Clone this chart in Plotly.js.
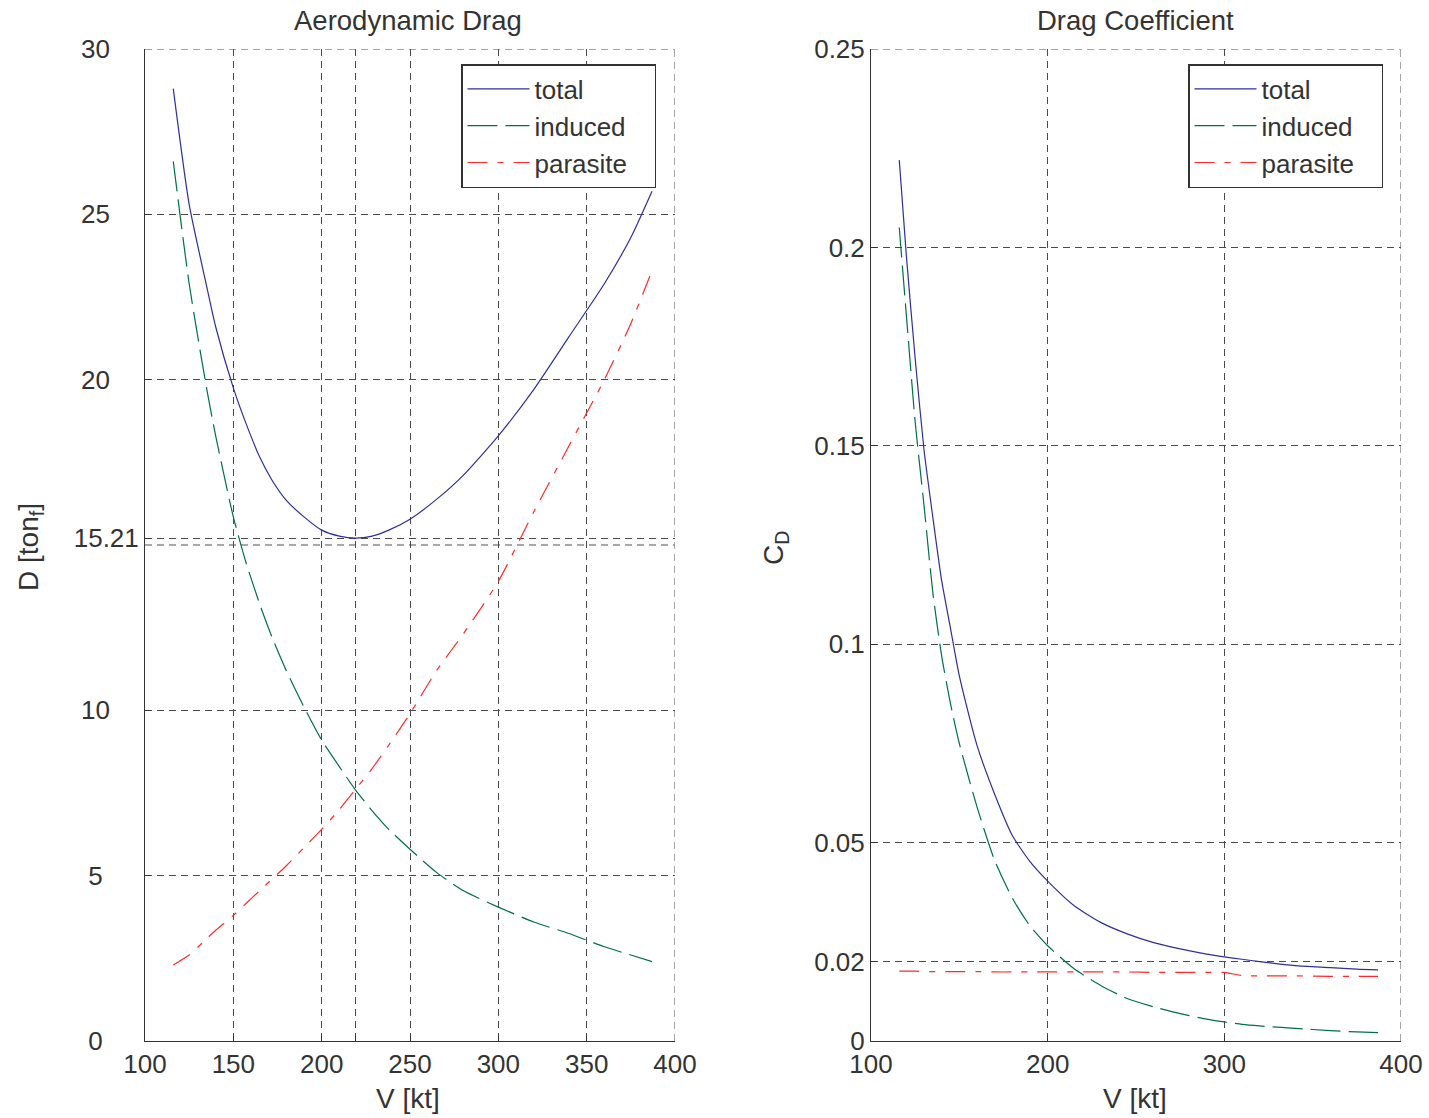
<!DOCTYPE html>
<html>
<head>
<meta charset="utf-8">
<script src="https://cdn.plot.ly/plotly-3.0.1.min.js"></script>
<style>html,body{margin:0;padding:0;background:#fff;}#chart{width:1429px;height:1118px;}</style>
</head>
<body>
<div id="chart"></div>
<script>
// ---- Left panel: Aerodynamic Drag ----
var speedDrag = [116,125,135,140,150,157,165,172,180,190,200,210,219,228,238,250,265,280,300,320,340,360,375,387];
var dragTotal = [28.8,25.3,22.8,21.6,19.75,18.7,17.65,16.95,16.35,15.85,15.45,15.27,15.21,15.26,15.45,15.78,16.38,17.1,18.3,19.7,21.3,22.9,24.3,25.7];
var dragInduced = [26.6,22.9,19.7,18.3,15.85,14.5,13.2,12.2,11.2,10.1,9.1,8.3,7.6,7.0,6.4,5.8,5.1,4.55,4.05,3.6,3.25,2.85,2.6,2.4];
var dragParasite = [2.3,2.6,3.1,3.35,3.8,4.15,4.55,4.9,5.3,5.85,6.4,7.0,7.6,8.2,8.95,9.9,11.2,12.3,13.9,16.0,18.0,20.0,21.7,23.3];
var dragXTicks = [100,150,200,219,250,300,350,400];
var dragXLabels = ['100','150','200','','250','300','350','400'];
var dragYTicks = [0,5,10,15.21,20,25,30];
var dragYLabels = ['0','5','10','15.21','20','25','30'];
var dragRefLine = 15;

// ---- Right panel: Drag Coefficient ----
var speedCd = [116,120,125,130,135,140,145,150,160,170,180,190,200,215,230,245,260,275,290,300,310,320,340,360,375,387];
var cdTotal = [0.222,0.198,0.172,0.149,0.132,0.116,0.104,0.092,0.0745,0.0622,0.0518,0.0452,0.0403,0.0341,0.0299,0.0270,0.0248,0.0232,0.0219,0.0212,0.0206,0.0200,0.0190,0.0185,0.0181,0.0179];
var cdInduced = [0.205,0.183,0.156,0.135,0.113,0.097,0.085,0.075,0.059,0.0455,0.036,0.029,0.0240,0.0182,0.0140,0.0107,0.0086,0.0069,0.0055,0.0048,0.0042,0.0038,0.0032,0.0026,0.0023,0.0021];
var cdParasite = [0.0176,0.0176,0.0176,0.0175,0.0175,0.0175,0.0175,0.0175,0.0175,0.0174,0.0174,0.0174,0.0174,0.0174,0.0174,0.0174,0.0173,0.0173,0.0173,0.0173,0.0165,0.0164,0.0164,0.0163,0.0163,0.0163];
var cdXTicks = [100,200,300,400];
var cdYTicks = [0,0.02,0.05,0.1,0.15,0.2,0.25];
var cdYLabels = ['0','0.02','0.05','0.1','0.15','0.2','0.25'];

var seriesNames = ['total','induced','parasite'];
var cBlue = '#2f2f9c', cGreen = '#007048', cRed = '#ff2a2a';
var dashInduced = '30px,8px';
var dashParasite = '20px,10px,6px,10px';
var FONT = 'Liberation Sans, Arial, sans-serif';
var TXT = '#333333';
var NB = '\u00a0';

// pad the left-panel labels so they sit centred like the reference
function padLabel(s) {
  if (s.length >= 5) return s;
  return s + NB.repeat(s.length === 1 ? 5 : 4);
}
// right padding inside the legend box
function legName(s) { return s + NB.repeat(3); }

function tr(x, y, name, color, dash, xa, ya, leg) {
  return {x: x, y: y, name: legName(name), type: 'scatter', mode: 'lines',
    line: {color: color, width: 1.2, dash: dash, shape: 'spline', smoothing: 0.6},
    xaxis: xa, yaxis: ya, legend: leg};
}
var data = [
  tr(speedDrag, dragTotal, seriesNames[0], cBlue, 'solid', 'x', 'y', 'legend'),
  tr(speedDrag, dragInduced, seriesNames[1], cGreen, dashInduced, 'x', 'y', 'legend'),
  tr(speedDrag, dragParasite, seriesNames[2], cRed, dashParasite, 'x', 'y', 'legend'),
  tr(speedCd, cdTotal, seriesNames[0], cBlue, 'solid', 'x2', 'y2', 'legend2'),
  tr(speedCd, cdInduced, seriesNames[1], cGreen, dashInduced, 'x2', 'y2', 'legend2'),
  tr(speedCd, cdParasite, seriesNames[2], cRed, dashParasite, 'x2', 'y2', 'legend2')
];

var W = 1429, H = 1118;
function px(v){return v / W;}
function py(v){return (H - v) / H;}

var axBase = {
  showgrid: true, gridcolor: '#4a4a4a', gridwidth: 1, griddash: '7px,5px',
  zeroline: false, showline: true, linecolor: '#333333', linewidth: 1,
  ticks: 'inside', ticklen: 6, tickcolor: '#333333',
  tickfont: {family: FONT, size: 26, color: TXT}, tickmode: 'array', fixedrange: true
};
function ax(extra){ return Object.assign({}, axBase, extra); }

var legBase = {
  bgcolor: '#ffffff', bordercolor: '#333333', borderwidth: 1.5,
  font: {family: FONT, size: 26, color: TXT}, xanchor: 'left', yanchor: 'top',
  tracegroupgap: 0, itemwidth: 62
};

var gridDash = {color: '#4a4a4a', width: 1, dash: '7px,5px'};

var layout = {
  width: W, height: H, margin: {l: 0, r: 0, t: 0, b: 0},
  paper_bgcolor: '#ffffff', plot_bgcolor: '#ffffff', showlegend: true,
  xaxis: ax({domain: [px(145), px(675)], range: [100, 400], tickvals: dragXTicks, ticktext: dragXLabels, anchor: 'y'}),
  yaxis: ax({domain: [py(1041), py(49)], range: [0, 30], tickvals: dragYTicks, ticktext: dragYLabels.map(padLabel), anchor: 'x'}),
  xaxis2: ax({domain: [px(871), px(1401)], range: [100, 400], tickvals: cdXTicks, ticktext: cdXTicks.map(String), anchor: 'y2'}),
  yaxis2: ax({domain: [py(1041), py(49)], range: [0, 0.25], tickvals: cdYTicks, ticktext: cdYLabels, anchor: 'x2'}),
  legend: Object.assign({}, legBase, {x: px(461), y: py(64)}),
  legend2: Object.assign({}, legBase, {x: px(1188), y: py(64)}),
  shapes: [
    {type: 'line', xref: 'x', yref: 'y', x0: 100, x1: 400, y0: dragRefLine, y1: dragRefLine,
     line: {color: '#8a8a8a', width: 1.3, dash: '7px,5px'}, layer: 'below'},
    {type: 'line', xref: 'x', yref: 'paper', x0: 400, x1: 400, y0: py(1041), y1: py(49), line: gridDash, layer: 'below'},
    {type: 'line', xref: 'paper', yref: 'y', x0: px(145), x1: px(675), y0: 30, y1: 30, line: gridDash, layer: 'below'},
    {type: 'line', xref: 'x2', yref: 'paper', x0: 400, x1: 400, y0: py(1041), y1: py(49), line: gridDash, layer: 'below'},
    {type: 'line', xref: 'paper', yref: 'y2', x0: px(871), x1: px(1401), y0: 0.25, y1: 0.25, line: gridDash, layer: 'below'}
  ],
  annotations: [
    {text: 'Aerodynamic Drag', xref: 'paper', yref: 'paper', x: px(408), y: py(20), showarrow: false,
     font: {family: FONT, size: 27.5, color: TXT}, xanchor: 'center', yanchor: 'middle'},
    {text: 'Drag Coefficient', xref: 'paper', yref: 'paper', x: px(1135), y: py(20), showarrow: false,
     font: {family: FONT, size: 27.5, color: TXT}, xanchor: 'center', yanchor: 'middle'},
    {text: 'V [kt]', xref: 'paper', yref: 'paper', x: px(408), y: py(1098), showarrow: false,
     font: {family: FONT, size: 28, color: TXT}, xanchor: 'center', yanchor: 'middle'},
    {text: 'V [kt]', xref: 'paper', yref: 'paper', x: px(1135), y: py(1098), showarrow: false,
     font: {family: FONT, size: 28, color: TXT}, xanchor: 'center', yanchor: 'middle'},
    {text: 'D [ton<sub>f</sub>]', xref: 'paper', yref: 'paper', x: px(30), y: py(547), showarrow: false,
     textangle: -90, font: {family: FONT, size: 28, color: TXT}, xanchor: 'center', yanchor: 'middle'},
    {text: 'C<sub>D</sub>', xref: 'paper', yref: 'paper', x: px(775), y: py(548), showarrow: false,
     textangle: -90, font: {family: FONT, size: 28, color: TXT}, xanchor: 'center', yanchor: 'middle'}
  ]
};

Plotly.newPlot('chart', data, layout, {displayModeBar: false, staticPlot: true});
</script>
</body>
</html>
